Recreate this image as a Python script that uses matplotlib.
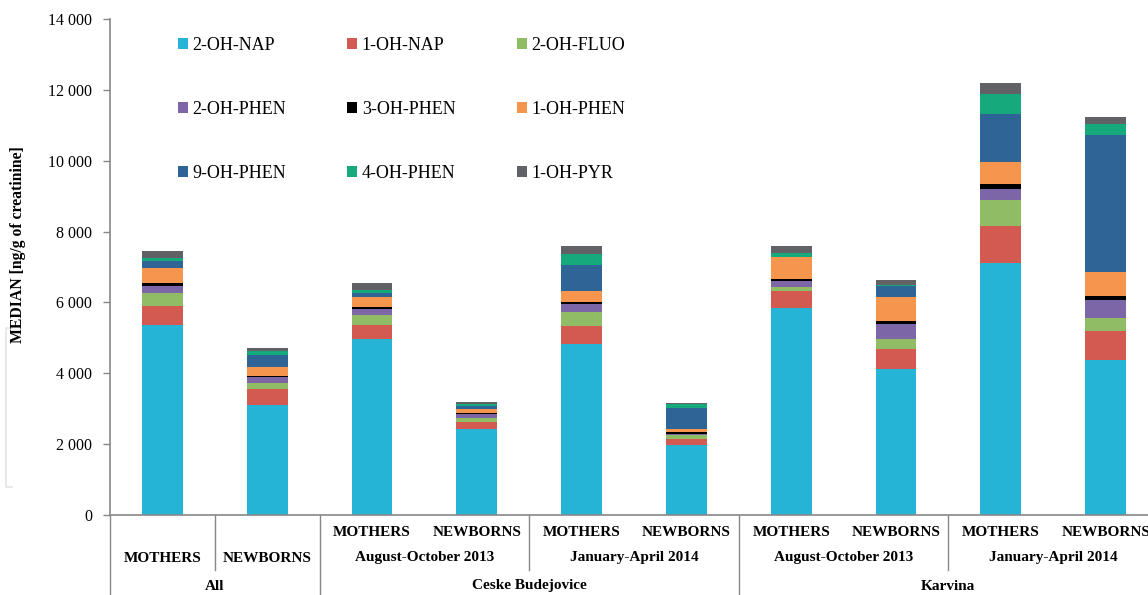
import matplotlib
matplotlib.use("Agg")
import matplotlib.pyplot as plt
from matplotlib.patches import Patch
from matplotlib.ticker import FuncFormatter
from matplotlib.lines import Line2D
import matplotlib.transforms as mtransforms

plt.rcParams["font.family"] = ["Liberation Serif", "DejaVu Serif"]

# Median values per compound [ng/g of creatinine], one per bar
groups = ["All M", "All N", "CB Aug M", "CB Aug N", "CB Jan M", "CB Jan N",
          "K Aug M", "K Aug N", "K Jan M", "K Jan N"]
oh_nap2 = [5360, 3100, 4980, 2430, 4840, 1970, 5850, 4130, 7100, 4370]
oh_nap1 = [540, 445, 385, 190, 505, 170, 460, 565, 1055, 820]
oh_fluo2 = [365, 180, 280, 120, 395, 105, 130, 265, 740, 365]
oh_phen2 = [205, 170, 160, 105, 205, 55, 170, 445, 300, 500]
oh_phen3 = [85, 40, 65, 30, 75, 45, 45, 75, 140, 115]
oh_phen1 = [425, 245, 290, 120, 300, 85, 620, 670, 620, 685]
oh_phen9 = [180, 345, 105, 95, 735, 600, 20, 310, 1375, 3865]
oh_phen4 = [100, 95, 85, 45, 320, 95, 100, 35, 555, 330]
oh_pyr1 = [200, 100, 190, 60, 215, 40, 190, 140, 310, 180]

series = [
    ("2-OH-NAP", oh_nap2, "#25b4d6"),
    ("1-OH-NAP", oh_nap1, "#d35a50"),
    ("2-OH-FLUO", oh_fluo2, "#8fbc65"),
    ("2-OH-PHEN", oh_phen2, "#7d66a8"),
    ("3-OH-PHEN", oh_phen3, "#000000"),
    ("1-OH-PHEN", oh_phen1, "#f6954e"),
    ("9-OH-PHEN", oh_phen9, "#2e6496"),
    ("4-OH-PHEN", oh_phen4, "#16a97c"),
    ("1-OH-PYR", oh_pyr1, "#616266"),
]

# hierarchical category labels
row1 = {2: "MOTHERS", 3: "NEWBORNS", 4: "MOTHERS", 5: "NEWBORNS",
        6: "MOTHERS", 7: "NEWBORNS", 8: "MOTHERS", 9: "NEWBORNS"}
row2 = [(0.5, "MOTHERS"), (1.5, "NEWBORNS"), (3, "August-October 2013"),
        (5, "January-April 2014"), (7, "August-October 2013"),
        (9, "January-April 2014")]
row3 = [(1, "All"), (4, "Ceske Budejovice"), (8, "Karvina")]

W, H = 1148, 595
fig = plt.figure(figsize=(W / 100, H / 100), dpi=100)
ax_l, ax_b, ax_r, ax_t = 110, 515, 1158, 19
ax = fig.add_axes([ax_l / W, 1 - ax_b / H, (ax_r - ax_l) / W, (ax_b - ax_t) / H])

x = [i + 0.5 for i in range(len(groups))]
bottom = [0] * len(groups)
handles = []
for name, vals, col in series:
    ax.bar(x, vals, 0.39, bottom=bottom, color=col, edgecolor="none", zorder=2)
    bottom = [b + v for b, v in zip(bottom, vals)]
    handles.append(Patch(facecolor=col, edgecolor="none", label=name))

ax.set_xlim(0, len(groups))
ax.set_ylim(0, 14000)
ax.set_yticks(range(0, 14001, 2000))
ax.yaxis.set_major_formatter(FuncFormatter(lambda v, p: f"{int(v):,}".replace(",", " ")))
ax.tick_params(axis="y", direction="out", length=5, width=1, color="#888888",
               labelsize=11.5, pad=8)
ax.set_xticks([])
for s in ("top", "right"):
    ax.spines[s].set_visible(False)
for s in ("left", "bottom"):
    ax.spines[s].set_color("#888888")
    ax.spines[s].set_linewidth(1.2)

# pixel-y -> axes fraction
def ya(ypix):
    return (ax_b - ypix) / (ax_b - ax_t)

trans = mtransforms.blended_transform_factory(ax.transData, ax.transAxes)
for xd, yend in [(0, 595), (1, 570), (2, 595), (4, 570), (6, 595), (8, 570)]:
    ax.add_line(Line2D([xd, xd], [0, ya(yend)], transform=trans, color="#888888",
                       linewidth=1, clip_on=False))

lab = dict(transform=trans, ha="center", va="center", fontsize=11,
           fontweight="bold", clip_on=False)
for i, t in row1.items():
    ax.text(i + 0.5, ya(533), t, **lab)
for xd, t in row2:
    ax.text(xd, ya(558), t, **lab)
for xd, t in row3:
    ax.text(xd, ya(586), t, **lab)

fig.text(18 / W, 1 - 245 / H, "MEDIAN [ng/g of creatinine]", rotation=90,
         ha="center", va="center", fontsize=11.3, fontweight="bold")

# legend reads row by row: reorder for matplotlib's column-first filling
ncol = 3
order = [r * ncol + c for c in range(ncol) for r in range(len(handles) // ncol)]
ax.legend(handles=[handles[k] for k in order], ncol=ncol, loc="upper left",
          frameon=False, bbox_to_anchor=(178 / W, 1 - 37 / H),
          bbox_transform=fig.transFigure, fontsize=13, handlelength=0.55,
          handleheight=0.55, handletextpad=0.25, columnspacing=3.4,
          labelspacing=2.6, borderpad=0, borderaxespad=0)

# faint bracket at the left edge
fig.add_artist(Line2D([12 / W, 6 / W, 6 / W, 12 / W],
                      [1 - 328 / H, 1 - 328 / H, 1 - 487 / H, 1 - 487 / H],
                      color="#e4e4e4", linewidth=1.2))

fig.savefig("out.png", dpi=100)
